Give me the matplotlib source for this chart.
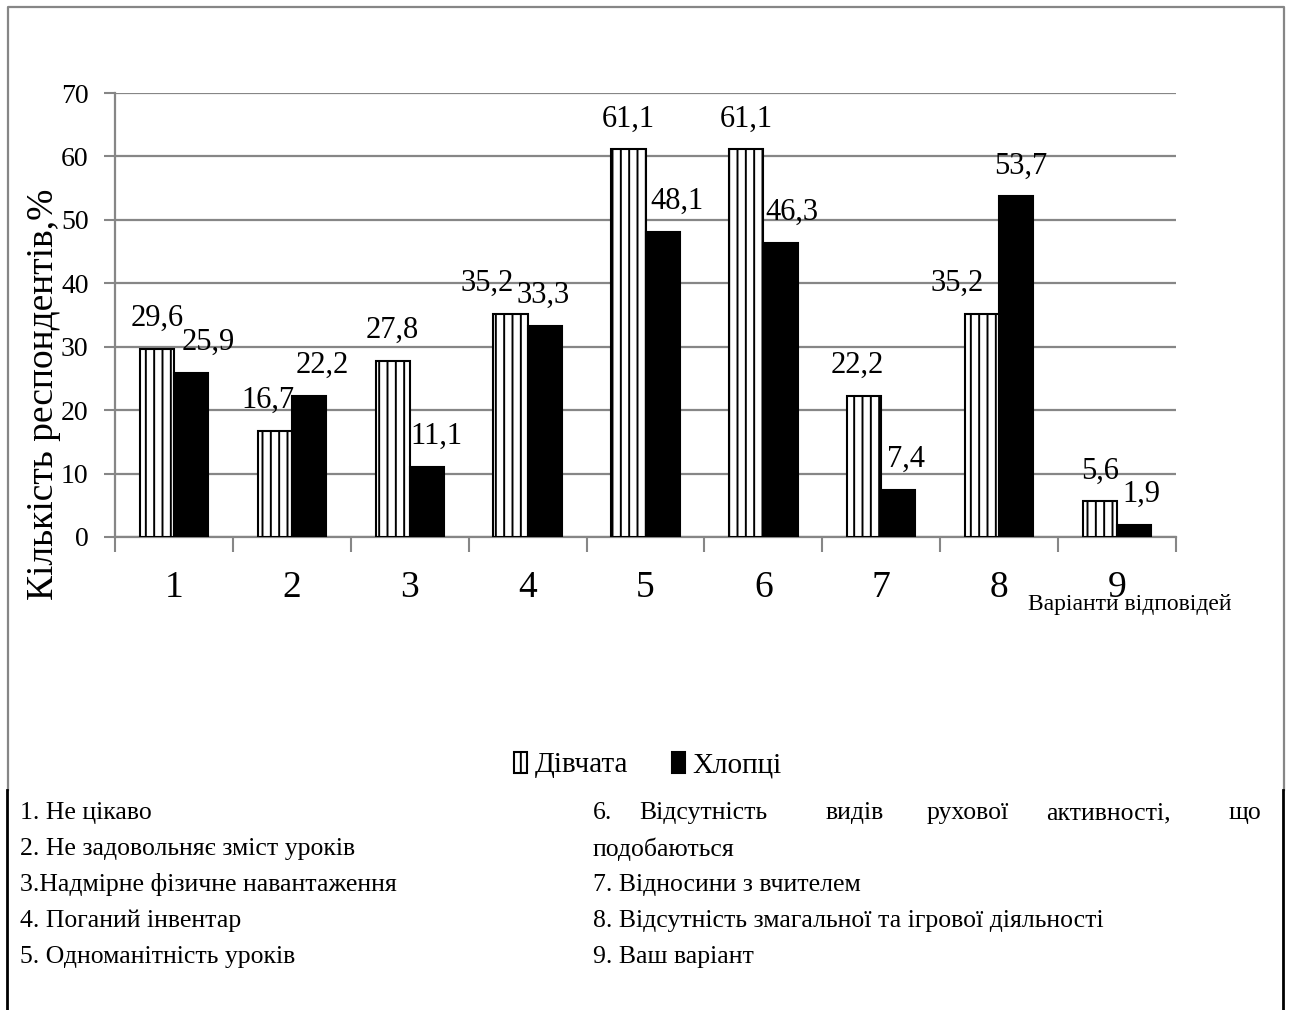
import matplotlib
matplotlib.use("Agg")
import matplotlib.pyplot as plt
from matplotlib.lines import Line2D
from matplotlib.ticker import FixedLocator

plt.rcParams['font.family'] = ['Liberation Serif', 'DejaVu Serif']
plt.rcParams['hatch.linewidth'] = 1.4

# data
categories = ['1', '2', '3', '4', '5', '6', '7', '8', '9']
girls = [29.6, 16.7, 27.8, 35.2, 61.1, 61.1, 22.2, 35.2, 5.6]
boys = [25.9, 22.2, 11.1, 33.3, 48.1, 46.3, 7.4, 53.7, 1.9]
series_names = ['Дівчата', 'Хлопці']
y_ticks = [0, 10, 20, 30, 40, 50, 60, 70]

notes_left = ['1. Не цікаво',
              '2. Не задовольняє зміст уроків',
              '3.Надмірне фізичне навантаження',
              '4. Поганий інвентар',
              '5. Одноманітність уроків']
note6_words = ['6.', 'Відсутність', 'видів', 'рухової', 'активності,', 'що']
notes_right = ['подобаються',
               '7. Відносини з вчителем',
               '8. Відсутність змагальної та ігрової діяльності',
               '9. Ваш варіант']

# label nudges (pixels), like the hand-moved labels in the original
girls_dx = [0, -7, 0, -23, 0, 0, -7, -25, 0]
boys_dx = [17, 13, 10, -2, 14, 11, 8, 4, 7]

W, H = 1290, 1010
fig = plt.figure(figsize=(W / 100, H / 100), dpi=100)
ax = fig.add_axes([115 / W, 1 - 537 / H, (1176 - 115) / W, (537 - 93) / H])

grey = '#868686'
bw = 0.29
x = list(range(len(categories)))
xg = [i - bw / 2 for i in x]
xb = [i + bw / 2 for i in x]

ax.bar(xg, girls, width=bw, color='white', edgecolor='black', hatch='||',
       linewidth=1.5, label=series_names[0], zorder=3)
ax.bar(xb, boys, width=bw, color='black', edgecolor='black',
       linewidth=1.5, label=series_names[1], zorder=3)

for xi, v, dx in zip(xg, girls, girls_dx):
    ax.annotate(f'{v:.1f}'.replace('.', ','), (xi, v), xytext=(dx, 23),
                textcoords='offset pixels', ha='center', va='baseline',
                fontsize=22)
for xi, v, dx in zip(xb, boys, boys_dx):
    ax.annotate(f'{v:.1f}'.replace('.', ','), (xi, v), xytext=(dx, 23),
                textcoords='offset pixels', ha='center', va='baseline',
                fontsize=22)

ax.set_xlim(-0.5, len(categories) - 0.5)
ax.set_ylim(0, 70)
ax.set_yticks(y_ticks)
ax.set_yticklabels([str(t) for t in y_ticks])
ax.set_xticks(x)
ax.set_xticklabels(categories)
ax.xaxis.set_minor_locator(FixedLocator([i - 0.5 for i in range(len(categories) + 1)]))
ax.tick_params(axis='x', which='major', length=0, pad=24, labelsize=27)
ax.tick_params(axis='x', which='minor', length=11, width=1.5, color=grey)
ax.tick_params(axis='y', length=8, width=1.5, color=grey, pad=11, labelsize=20)
ax.grid(axis='y', color=grey, linewidth=1.6, zorder=0)
ax.set_axisbelow(True)
for s in ['top', 'right']:
    ax.spines[s].set_visible(False)
for s in ['left', 'bottom']:
    ax.spines[s].set_color(grey)
    ax.spines[s].set_linewidth(1.6)

fig.text(44 / W, 1 - 394 / H, 'Кількість респондентів,%', rotation=90,
         ha='center', va='center', fontsize=27)
fig.text(1028 / W, 1 - 610 / H, 'Варіанти відповідей', ha='left',
         va='baseline', fontsize=17)

fig.legend(loc='center', bbox_to_anchor=(648 / W, 1 - 765 / H), ncol=2,
           frameon=False, fontsize=21, handlelength=0.45, handleheight=0.75,
           handletextpad=0.25, columnspacing=1.5)

# chart frame (grey) and the text box below it (black)
tf = fig.transFigure
frame_bottom = 1 - 790 / H
fig.add_artist(Line2D([8 / W, 8 / W, 1284 / W, 1284 / W],
                      [frame_bottom, 1 - 7 / H, 1 - 7 / H, frame_bottom],
                      color=grey, linewidth=1.6, transform=tf))
fig.add_artist(Line2D([7 / W, 7 / W], [0, frame_bottom], color='black',
                      linewidth=2, transform=tf))
fig.add_artist(Line2D([1283 / W, 1283 / W], [0, frame_bottom], color='black',
                      linewidth=2, transform=tf))

line_y = [813, 849, 885, 921, 957]
for t, yy in zip(notes_left, line_y):
    fig.text(20 / W, 1 - yy / H, t, ha='left', va='center', fontsize=18.5)

word_x = [593, 639, 826, 927, 1046, 1229]
for w, xx in zip(note6_words, word_x):
    fig.text(xx / W, 1 - line_y[0] / H, w, ha='left', va='center', fontsize=18.5)
for t, yy in zip(notes_right, line_y[1:]):
    fig.text(593 / W, 1 - yy / H, t, ha='left', va='center', fontsize=18.5)

fig.savefig('out.png', dpi=100)
